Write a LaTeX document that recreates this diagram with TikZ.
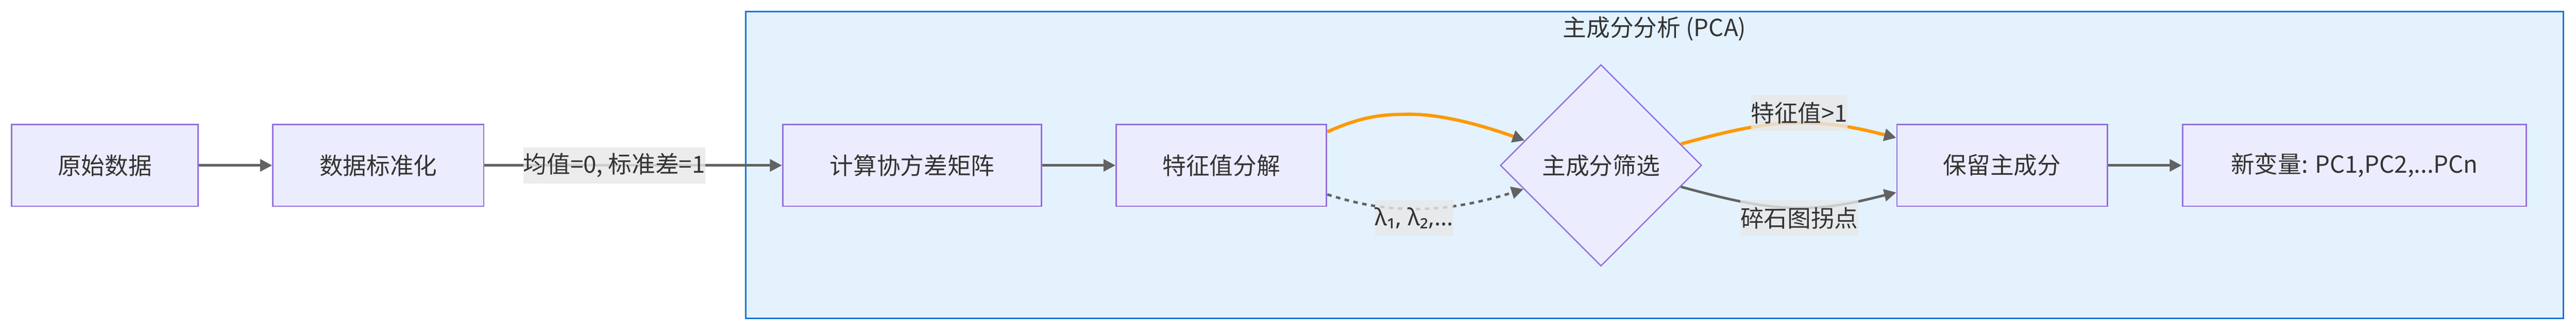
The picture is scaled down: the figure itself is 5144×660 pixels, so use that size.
\documentclass[tikz,border=0pt]{standalone}
\usepackage{fontspec}
\setmainfont{Noto Sans CJK SC}
\newfontfamily\greekfont{Noto Sans}
\usetikzlibrary{shapes.geometric,arrows.meta,calc}
\definecolor{nodefill}{HTML}{ECECFF}
\definecolor{nodestroke}{HTML}{9370DB}
\definecolor{clusterfill}{HTML}{E3F2FD}
\definecolor{clusterstroke}{HTML}{1976D2}
\definecolor{edgegray}{HTML}{626262}
\definecolor{edgeorange}{HTML}{FF9800}
\definecolor{labelbg}{HTML}{E8E8E8}
\definecolor{textcol}{HTML}{333333}
\begin{document}
\begin{tikzpicture}[x=1bp,y=-1bp,
  every node/.style={font=\fontsize{47bp}{56bp}\selectfont, text=textcol},
  box/.style={draw=nodestroke, fill=nodefill, line width=3bp, minimum height=163bp, inner sep=0pt},
  decision/.style={shape=diamond, aspect=1, draw=nodestroke, fill=nodefill, line width=2.5bp, minimum width=402bp, minimum height=402bp, inner sep=0pt},
  cluster/.style={draw=clusterstroke, fill=clusterfill, line width=3bp, inner sep=0pt},
  tip/.style={-{Triangle[length=24bp,width=24bp,color=edgegray]}},
  edge/.style={draw=edgegray, line width=5bp, tip},
  oedge/.style={draw=edgeorange, line width=6.5bp, tip},
  dedge/.style={draw=edgegray, line width=5bp, dash pattern=on 9bp off 9bp, tip},
  elabel/.style={fill=labelbg, fill opacity=0.8, text opacity=1, inner sep=0pt, minimum height=72bp}
]
\useasboundingbox (0,0) rectangle (5144,660);
\fill[white] (0,0) rectangle (5144,660);

% cluster
\node[cluster, minimum width=3630bp, minimum height=612bp] (CL) at (3304,329) {};
\node (T) at (3304,57) {主成分分析 (PCA)};

% nodes
\node[box, minimum width=373bp] (A) at (209.5,330) {原始数据};
\node[box, minimum width=421bp] (B) at (755.5,330) {数据标准化};
\node[box, minimum width=517bp] (C) at (1821.5,330) {计算协方差矩阵};
\node[box, minimum width=420bp] (D) at (2439,330) {特征值分解};
\node[decision] (E) at (3197,330) {主成分筛选};
\node[box, minimum width=420bp] (F) at (3998,330) {保留主成分};
\node[box, minimum width=687bp] (G) at (4701.5,330) {新变量: PC1,PC2,...PCn};

% edges
\draw[edge] (A) -- (B);
\draw[edge] (B) -- node[elabel, pos=0.436] (LB) {均值=0, 标准差=1} (C);
\draw[edge] (C) -- (D);

\draw[oedge] ($(D.east)+(0,-67)$) .. controls (2720,232) and (2760,228) .. (2815,228)
   .. controls (2880,228) and (2960,250) .. (E.162);
\draw[dedge] ($(D.east)+(0,58)$) .. controls (2720,410) and (2770,417) .. (2830,417)
   .. controls (2900,417) and (2970,400) .. (E.197);
\node[elabel] (LD) at (2824,435) {\greekfont λ₁, λ₂,...};

\draw[oedge] (E.15) .. controls (3450,262) and (3520,245) .. (3593,245)
   .. controls (3666,245) and (3720,258) .. ($(F.west)+(0,-55)$);
\node[elabel] (LE1) at (3593,225) {特征值>1};
\draw[edge] (E.-15) .. controls (3450,398) and (3520,415) .. (3593,415)
   .. controls (3666,415) and (3720,400) .. ($(F.west)+(0,54)$);
\node[elabel] (LE2) at (3593,435) {碎石图拐点};

\draw[edge] (F) -- (G);
\end{tikzpicture}
\end{document}
